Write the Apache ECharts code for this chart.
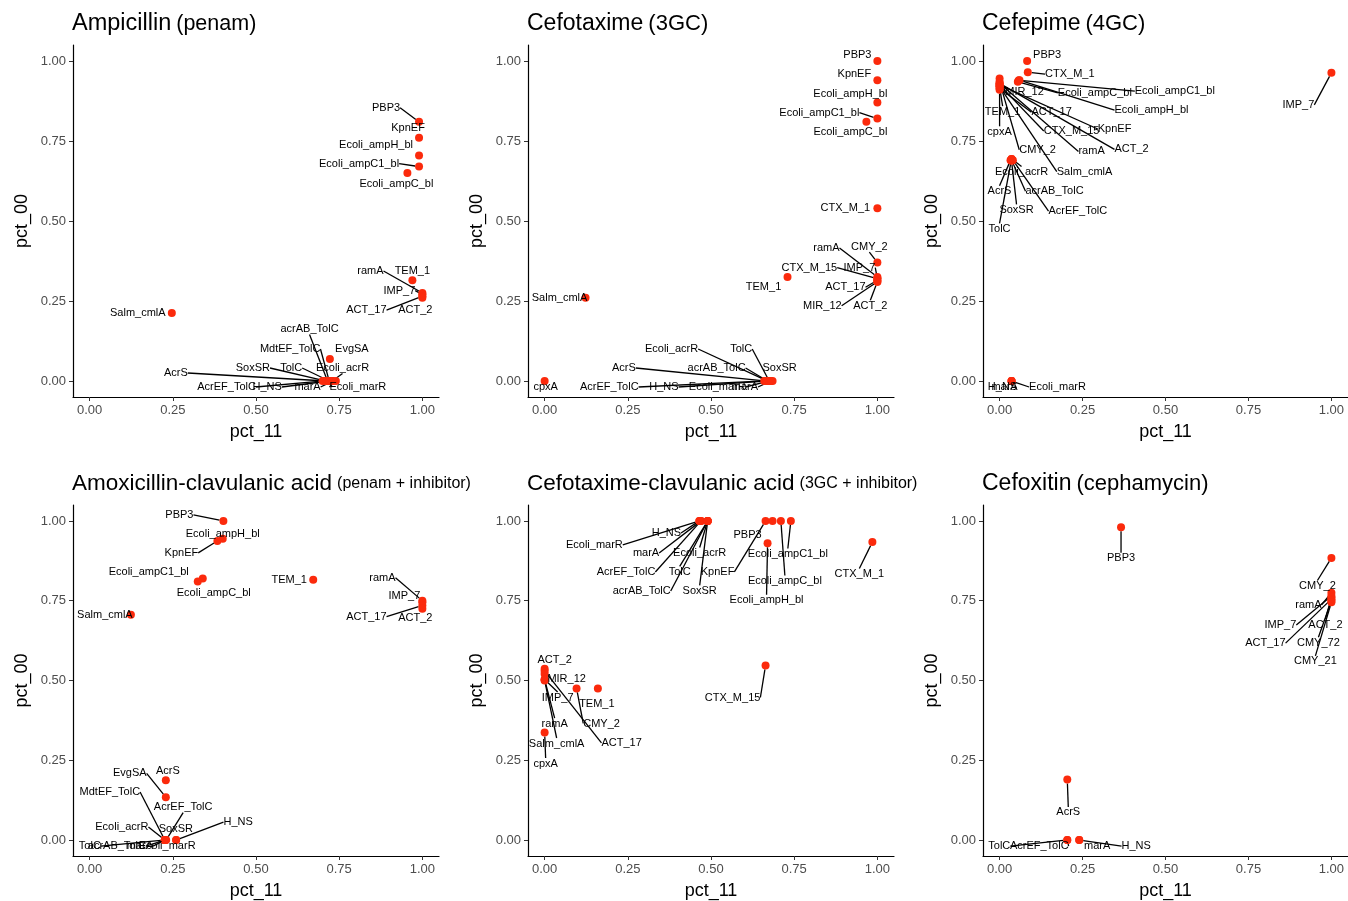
<!DOCTYPE html>
<html>
<head>
<meta charset="utf-8">
<script src="https://cdn.jsdelivr.net/npm/echarts@6/dist/echarts.min.js"></script>
<style>
  html, body { margin: 0; padding: 0; background: #fff; }
  #chart { width: 1348px; height: 901px; }
</style>
</head>
<body>
<div id="chart"></div>
<script>
// tick labels shared by every panel
const ticks = [0, 0.25, 0.5, 0.75, 1]

// Ampicillin (penam)
const names1 = ['PBP3', 'KpnEF', 'Ecoli_ampH_bl', 'Ecoli_ampC1_bl', 'Ecoli_ampC_bl', 'TEM_1', 'ramA', 'IMP_7', 'ACT_17', 'ACT_2', 'Salm_cmlA',
  'acrAB_TolC', 'MdtEF_TolC', 'EvgSA', 'SoxSR', 'TolC', 'Ecoli_acrR', 'AcrS', 'AcrEF_TolC', 'H_NS', 'marA', 'Ecoli_marR']
const x1 = [0.99, 0.99, 0.99, 0.99, 0.955, 0.97, 1.0, 1.0, 1.0, 1.0, 0.247, 0.715, 0.72, 0.722, 0.71, 0.72, 0.73, 0.71, 0.70, 0.72, 0.73, 0.74]
const y1 = [0.81, 0.76, 0.705, 0.67, 0.65, 0.315, 0.275, 0.27, 0.265, 0.26, 0.2125, 0, 0, 0.069, 0, 0, 0, 0, 0, 0, 0, 0]

// Cefotaxime (3GC)
const names2 = ['PBP3', 'KpnEF', 'Ecoli_ampH_bl', 'Ecoli_ampC1_bl', 'Ecoli_ampC_bl', 'CTX_M_1', 'CMY_2', 'ramA', 'CTX_M_15', 'IMP_7', 'ACT_17', 'MIR_12', 'ACT_2',
  'TEM_1', 'Salm_cmlA', 'cpxA', 'Ecoli_acrR', 'TolC', 'AcrS', 'acrAB_TolC', 'SoxSR', 'AcrEF_TolC', 'H_NS', 'Ecoli_marR', 'marA']
const x2 = [1.0, 1.0, 1.0, 1.0, 0.967, 1.0, 1.0, 1.0, 1.0, 1.0, 1.0, 1.0, 1.0, 0.73, 0.123, 0, 0.67, 0.675, 0.665, 0.67, 0.685, 0.66, 0.665, 0.675, 0.68]
const y2 = [1.0, 0.94, 0.87, 0.82, 0.81, 0.54, 0.37, 0.325, 0.32, 0.32, 0.315, 0.31, 0.31, 0.325, 0.26, 0, 0, 0, 0, 0, 0, 0, 0, 0, 0]

// Cefepime (4GC)
const names3 = ['PBP3', 'CTX_M_1', 'Ecoli_ampC1_bl', 'Ecoli_ampC_bl', 'Ecoli_ampH_bl', 'KpnEF', 'ACT_2', 'MIR_12', 'TEM_1', 'ACT_17', 'CTX_M_15', 'cpxA', 'CMY_2', 'ramA', 'Salm_cmlA',
  'Ecoli_acrR', 'AcrS', 'acrAB_TolC', 'SoxSR', 'AcrEF_TolC', 'TolC', 'IMP_7', 'H_NS', 'marA', 'Ecoli_marR']
const x3 = [0.083, 0.085, 0.058, 0.055, 0.06, 0, 0, 0, 0, 0, 0, 0, 0, 0, 0, 0.036, 0.033, 0.036, 0.036, 0.04, 0.036, 1.0, 0.036, 0.036, 0.036]
const y3 = [1.0, 0.965, 0.94, 0.935, 0.94, 0.925, 0.93, 0.945, 0.92, 0.915, 0.925, 0.91, 0.935, 0.93, 0.92, 0.694, 0.69, 0.69, 0.688, 0.69, 0.694, 0.963, 0, 0, 0]

// Amoxicillin-clavulanic acid (penam + inhibitor)
const names4 = ['PBP3', 'Ecoli_ampH_bl', 'KpnEF', 'Ecoli_ampC1_bl', 'Ecoli_ampC_bl', 'TEM_1', 'ramA', 'IMP_7', 'ACT_17', 'ACT_2', 'Salm_cmlA',
  'AcrS', 'EvgSA', 'MdtEF_TolC', 'AcrEF_TolC', 'Ecoli_acrR', 'SoxSR', 'H_NS', 'TolC', 'acrAB_TolC', 'marA', 'Ecoli_marR']
const x4 = [0.402, 0.40, 0.384, 0.34, 0.325, 0.672, 1.0, 1.0, 1.0, 1.0, 0.124, 0.229, 0.229, 0.226, 0.23, 0.226, 0.226, 0.26, 0.226, 0.226, 0.226, 0.26]
const y4 = [1.0, 0.944, 0.9375, 0.82, 0.81, 0.816, 0.75, 0.745, 0.735, 0.725, 0.706, 0.1875, 0.134, 0, 0, 0, 0, 0, 0, 0, 0, 0]

// Cefotaxime-clavulanic acid (3GC + inhibitor)
const names5 = ['Ecoli_marR', 'H_NS', 'marA', 'Ecoli_acrR', 'AcrEF_TolC', 'TolC', 'acrAB_TolC', 'SoxSR', 'KpnEF', 'PBP3', 'Ecoli_ampH_bl', 'Ecoli_ampC_bl', 'Ecoli_ampC1_bl',
  'CTX_M_1', 'CTX_M_15', 'ACT_2', 'ACT_17', 'MIR_12', 'IMP_7', 'ramA', 'Salm_cmlA', 'CMY_2', 'TEM_1', 'cpxA']
const x5 = [0.465, 0.465, 0.47, 0.49, 0.47, 0.49, 0.49, 0.49, 0.664, 0.685, 0.67, 0.71, 0.74, 0.985, 0.664, 0, 0, 0, 0, 0, 0, 0.096, 0.16, 0]
const y5 = [1, 1, 1, 1, 1, 1, 1, 1, 1, 1, 0.93, 1, 1, 0.934, 0.547, 0.537, 0.53, 0.52, 0.503, 0.503, 0.5, 0.475, 0.475, 0.337]

// Cefoxitin (cephamycin)
const names6 = ['PBP3', 'AcrS', 'TolC', 'AcrEF_TolC', 'marA', 'H_NS', 'CMY_2', 'ramA', 'IMP_7', 'ACT_2', 'ACT_17', 'CMY_72', 'CMY_21']
const x6 = [0.366, 0.204, 0.204, 0.204, 0.24, 0.24, 1.0, 1.0, 1.0, 1.0, 1.0, 1.0, 1.0]
const y6 = [0.98, 0.19, 0, 0, 0, 0, 0.884, 0.775, 0.765, 0.76, 0.755, 0.75, 0.745]

// repel-style label offsets in px from the point: [dx, dy, draw line]
const lab1 = [[-33, -14, 1], [-11, -10, 0], [-43, -10, 0], [-60, -3, 1], [-11, 11, 0], [0, -9, 0], [-52, -22, 1], [-23, -4, 1], [-56, 14, 1], [-7, 12, 0], [-34, 0, 0],
  [-18, -52, 1], [-39, -32, 1], [22, -10, 0], [-73, -13, 1], [-38, -13, 1], [10, -13, 1], [-150, -8, 1], [-96, 6, 1], [-62, 6, 1], [-25, 6, 1], [22, 6, 1]]
const lab2 = [[-20, -6, 0], [-23, -6, 0], [-27, -9, 0], [-58, -6, 1], [-16, 10, 0], [-32, 0, 0], [-8, -16, 1], [-51, -29, 1], [-68, -11, 1], [-18, -11, 1], [-32, 7, 1], [-55, 24, 1], [-7, 24, 1],
  [-24, 10, 0], [-26, 0, 0], [1, 6, 0], [-96, -32, 1], [-28, -32, 1], [-142, -13, 1], [-51, -13, 1], [7, -13, 0], [-155, 6, 1], [-102, 6, 1], [-52, 6, 1], [-26, 6, 1]]
const lab3 = [[20, -6, 0], [42, 2, 1], [156, 11, 1], [77, 11, 1], [132, 30, 1], [115, 44, 1], [132, 66, 1], [25, 13, 1], [3, 25, 1], [52, 24, 1], [72, 46, 1], [0, 42, 1], [38, 68, 1], [92, 68, 1], [85, 85, 1],
  [10, 13, 1], [-11, 31, 1], [43, 31, 1], [5, 49, 1], [65, 51, 1], [-12, 70, 1], [-33, 32, 1], [-9, 6, 0], [-7, 6, 0], [46, 6, 1]]
const lab4 = [[-44, -6, 1], [0, -5, 0], [-36, 12, 1], [-54, -6, 0], [16, 11, 0], [-24, 0, 0], [-40, -23, 1], [-18, -6, 0], [-56, 11, 1], [-7, 9, 0], [-26, 0, 0],
  [2, -9, 0], [-36, -24, 1], [-55, -48, 1], [17, -33, 1], [-43, -13, 1], [11, -11, 0], [62, -18, 1], [-75, 6, 1], [-48, 6, 1], [-25, 6, 1], [-9, 6, 0]]
const lab5 = [[-105, 24, 1], [-33, 12, 1], [-55, 32, 1], [-8, 32, 1], [-75, 51, 1], [-28, 51, 1], [-66, 70, 1], [-8, 70, 1], [-48, 51, 1], [-25, 14, 0], [-1, 57, 1], [4, 60, 1], [-3, 33, 1],
  [-13, 32, 1], [-33, 32, 1], [10, -9, 0], [77, 72, 1], [22, 5, 1], [13, 18, 1], [10, 44, 1], [12, 63, 1], [25, 35, 1], [-1, 15, 0], [1, 31, 1]]
const lab6 = [[0, 31, 1], [1, 33, 1], [-68, 6, 1], [-28, 6, 1], [18, 6, 0], [57, 6, 1], [-14, 28, 1], [-23, 12, 1], [-51, 29, 1], [-6, 27, 1], [-66, 44, 1], [-13, 42, 1], [-16, 59, 1]]

const panels = [
  { main: 'Ampicillin', sub: '(penam)', mainSize: 23.5, subSize: 21.5, names: names1, x: x1, y: y1, lab: lab1 },
  { main: 'Cefotaxime', sub: '(3GC)', mainSize: 23, subSize: 22, names: names2, x: x2, y: y2, lab: lab2 },
  { main: 'Cefepime', sub: '(4GC)', mainSize: 23, subSize: 22, names: names3, x: x3, y: y3, lab: lab3 },
  { main: 'Amoxicillin-clavulanic acid', sub: '(penam + inhibitor)', mainSize: 22.5, subSize: 16, names: names4, x: x4, y: y4, lab: lab4 },
  { main: 'Cefotaxime-clavulanic acid', sub: '(3GC + inhibitor)', mainSize: 22.5, subSize: 16, names: names5, x: x5, y: y5, lab: lab5 },
  { main: 'Cefoxitin', sub: '(cephamycin)', mainSize: 23, subSize: 22, names: names6, x: x6, y: y6, lab: lab6 }
]

const FONT = '"Liberation Sans", Arial, Helvetica, sans-serif'
const lefts = [73, 528, 983]
const tops = [45, 505]

const chart = echarts.init(document.getElementById('chart'), null, { renderer: 'canvas' })

const grids = [], xAxes = [], yAxes = [], titles = [], series = []

panels.forEach((p, i) => {
  const left = lefts[i % 3]
  const top = tops[Math.floor(i / 3)]
  grids.push({ left: left, top: top, width: 366, height: 352 })

  titles.push({
    left: left - 1,
    top: top - 33,
    padding: 0,
    text: `{a|${p.main}} {b|${p.sub}}`,
    textStyle: {
      fontWeight: 'normal',
      rich: {
        a: { fontSize: p.mainSize, color: '#000', fontFamily: FONT, fontWeight: 'normal' },
        b: { fontSize: p.subSize, color: '#000', fontFamily: FONT, fontWeight: 'normal' }
      }
    }
  })

  const axisCommon = {
    gridIndex: i,
    type: 'value',
    min: -0.05,
    max: 1.05,
    nameLocation: 'middle',
    nameTextStyle: { fontSize: 18, color: '#000', fontFamily: FONT },
    axisLine: { show: true, onZero: false, lineStyle: { color: '#000', width: 1.2 } },
    axisTick: { show: true, customValues: ticks, length: 4, lineStyle: { color: '#333', width: 1 } },
    axisLabel: {
      customValues: ticks,
      formatter: v => v.toFixed(2),
      color: '#4d4d4d',
      fontSize: 13,
      fontFamily: FONT,
      margin: 7
    },
    splitLine: { show: false }
  }
  xAxes.push(Object.assign({}, axisCommon, { name: 'pct_11', nameGap: 26 }))
  yAxes.push(Object.assign({}, axisCommon, { name: 'pct_00', nameGap: 42 }))

  series.push({
    type: 'scatter',
    xAxisIndex: i,
    yAxisIndex: i,
    symbolSize: 8,
    itemStyle: { color: '#fb2a0c', opacity: 1 },
    emphasis: { disabled: true },
    data: p.names.map((n, k) => ({
      name: n,
      value: [p.x[k], p.y[k]],
      labelLine: { show: p.lab[k][2] === 1 }
    })),
    label: {
      show: true,
      formatter: '{b}',
      fontSize: 11,
      color: '#000',
      fontFamily: FONT
    },
    labelLine: {
      show: true,
      lineStyle: { color: '#000', width: 1.3 }
    },
    labelLayout: function (params) {
      const off = panels[params.seriesIndex].lab[params.dataIndex]
      const r = params.rect
      return {
        x: r.x + r.width / 2 + off[0],
        y: r.y + r.height / 2 + off[1],
        align: 'center',
        verticalAlign: 'middle'
      }
    }
  })
})

chart.setOption({
  animation: false,
  backgroundColor: '#fff',
  title: titles,
  grid: grids,
  xAxis: xAxes,
  yAxis: yAxes,
  series: series
})
</script>
</body>
</html>
